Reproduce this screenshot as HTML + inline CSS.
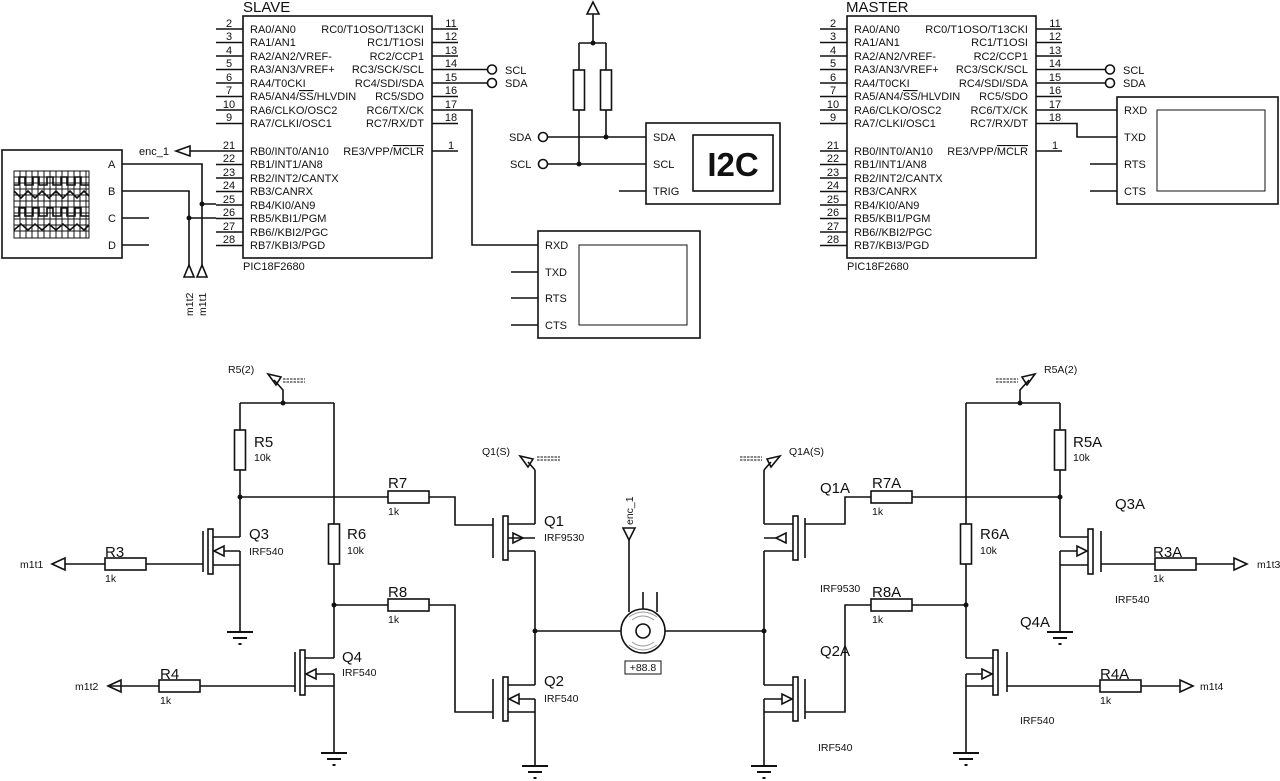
<!DOCTYPE html>
<html><head><meta charset="utf-8"><style>
body{margin:0;background:#fff}
svg{display:block}
text{font-family:"Liberation Sans",sans-serif;fill:#111}
.w{stroke:#111;stroke-width:1.6;fill:none}
.t{stroke:#111;stroke-width:1;fill:none}
.p{font-size:11px}
.n{font-size:11px;text-anchor:middle}
.r{font-size:11px;text-anchor:end}
.L{font-size:15px}
.v{font-size:10.5px}
</style></head><body>
<svg width="1280" height="781" viewBox="0 0 1280 781">
<defs>
<symbol id="gnd" overflow="visible"><path d="M-13 0H13M-7 6H7" stroke="#111" stroke-width="2"/><rect x="-1.5" y="11" width="3" height="2" fill="#111"/></symbol>
</defs>

<!-- SLAVE chip -->
<g id="chip">
<text x="243" y="12" style="font-size:15px">SLAVE</text>
<rect x="243" y="16" width="189" height="242" class="w"/>
<path class="w" d="M216 29H243M216 42.5H243M216 56H243M216 69.5H243M216 83H243M216 96.5H243M216 110H243M216 123.5H243M216 151H243M216 164.5H243M216 178H243M216 191.5H243M216 205H243M216 218.5H243M216 232H243M216 245.5H243M432 29H458M432 42.5H458M432 56H458M432 69.5H458M432 83H458M432 96.5H458M432 110H458M432 123.5H458M432 151H458"/>
<g class="n"><text x="229" y="27">2</text><text x="229" y="40">3</text><text x="229" y="54">4</text><text x="229" y="67">5</text><text x="229" y="81">6</text><text x="229" y="94">7</text><text x="229" y="108">10</text><text x="229" y="121">9</text><text x="229" y="149">21</text><text x="229" y="162">22</text><text x="229" y="176">23</text><text x="229" y="189">24</text><text x="229" y="203">25</text><text x="229" y="216">26</text><text x="229" y="230">27</text><text x="229" y="243">28</text>
<text x="451" y="27">11</text><text x="451" y="40">12</text><text x="451" y="54">13</text><text x="451" y="67">14</text><text x="451" y="81">15</text><text x="451" y="94">16</text><text x="451" y="108">17</text><text x="451" y="121">18</text><text x="451" y="149">1</text></g>
<g class="p"><text x="250" y="33">RA0/AN0</text><text x="250" y="46">RA1/AN1</text><text x="250" y="60">RA2/AN2/VREF-</text><text x="250" y="73">RA3/AN3/VREF+</text><text x="250" y="87">RA4/T0CKI</text><text x="250" y="100">RA5/AN4/<tspan text-decoration="overline">SS</tspan>/HLVDIN</text><text x="250" y="114">RA6/CLKO/OSC2</text><text x="250" y="127">RA7/CLKI/OSC1</text>
<text x="250" y="155">RB0/INT0/AN10</text><text x="250" y="168">RB1/INT1/AN8</text><text x="250" y="182">RB2/INT2/CANTX</text><text x="250" y="195">RB3/CANRX</text><text x="250" y="209">RB4/KI0/AN9</text><text x="250" y="222">RB5/KBI1/PGM</text><text x="250" y="236">RB6//KBI2/PGC</text><text x="250" y="249">RB7/KBI3/PGD</text></g>
<g class="r"><text x="424" y="33">RC0/T1OSO/T13CKI</text><text x="424" y="46">RC1/T1OSI</text><text x="424" y="60">RC2/CCP1</text><text x="424" y="73">RC3/SCK/SCL</text><text x="424" y="87">RC4/SDI/SDA</text><text x="424" y="100">RC5/SDO</text><text x="424" y="114">RC6/TX/CK</text><text x="424" y="127">RC7/RX/DT</text><text x="424" y="155">RE3/VPP/<tspan text-decoration="overline">MCLR</tspan></text></g>
<text x="243" y="270" class="p">PIC18F2680</text>
</g>
<use href="#chip" x="604" y="0"/>
<rect x="843" y="0" width="60" height="15" fill="#fff"/>
<text x="846" y="12" style="font-size:15px">MASTER</text>

<!-- slave SCL/SDA -->
<path class="w" d="M458 69.5H488M458 83H488M458 110H472V245H538"/>
<circle cx="492" cy="69.5" r="4.5" class="w"/><circle cx="492" cy="83" r="4.5" class="w"/>
<text x="505" y="74" class="p">SCL</text><text x="505" y="87" class="p">SDA</text>
<!-- master SCL/SDA -->
<path class="w" d="M1062 69.5H1106M1062 83H1106M1062 110H1117M1062 123.5H1077V137H1117M1090 164H1117M1090 191H1117"/>
<circle cx="1110" cy="69.5" r="4.5" class="w"/><circle cx="1110" cy="83" r="4.5" class="w"/>
<text x="1123" y="74" class="p">SCL</text><text x="1123" y="87" class="p">SDA</text>
<rect x="1117" y="97" width="161" height="107" class="w"/><rect x="1157" y="110" width="108" height="81" class="t"/>
<g class="p"><text x="1124" y="114">RXD</text><text x="1124" y="141">TXD</text><text x="1124" y="168">RTS</text><text x="1124" y="195">CTS</text></g>

<!-- slave terminal -->
<rect x="538" y="231" width="162" height="107" class="w"/><rect x="579" y="245" width="108" height="80" class="t"/>
<path class="w" d="M511 272H538M511 298H538M511 325H538"/>
<g class="p"><text x="545" y="249">RXD</text><text x="545" y="276">TXD</text><text x="545" y="302">RTS</text><text x="545" y="329">CTS</text></g>

<!-- I2C -->
<rect x="646" y="123" width="134" height="81" class="w"/><rect x="693" y="135" width="80" height="56" class="w"/>
<text x="733" y="176" style="font-size:33px;font-weight:bold;text-anchor:middle">I2C</text>
<g class="p"><text x="653" y="141">SDA</text><text x="653" y="168">SCL</text><text x="653" y="195">TRIG</text></g>
<path class="w" d="M547 137H646M547 164H646M619 191H646M593 14V43M579 43H606M579 43V70M606 43V70M579 110V164M606 110V137"/>
<polygon points="593,2 587,14 599,14" class="w"/>
<rect x="573.5" y="70" width="11" height="40" class="w"/><rect x="600.5" y="70" width="11" height="40" class="w"/>
<circle cx="543" cy="137" r="4.5" class="w"/><circle cx="543" cy="164" r="4.5" class="w"/>
<text x="509" y="141" class="p">SDA</text><text x="510" y="168" class="p">SCL</text>
<circle cx="593" cy="43" r="2.5" fill="#111"/><circle cx="606" cy="137" r="2.5" fill="#111"/><circle cx="579" cy="164" r="2.5" fill="#111"/>

<!-- scope -->
<rect x="2" y="150" width="120" height="108" class="w"/>
<g class="t" stroke-width="0.6" stroke="#555">
<path d="M20 171V238M26 171V238M32 171V238M38 171V238M44 171V238M50 171V238M56 171V238M62 171V238M68 171V238M74 171V238M80 171V238M86 171V238M14 177H89M14 183H89M14 189H89M14 195H89M14 201H89M14 207H89M14 213H89M14 219H89M14 225H89M14 231H89"/>
</g>
<rect x="14" y="171" width="75" height="67" class="t" stroke-width="1.2"/>
<path class="w" stroke-width="1.4" d="M14 185H19V177H25V185H33V177H39V185H47V177H53V185H61V177H67V185H75V177H81V185H89M14 191L21 198L28 191L35 198L42 191L49 198L56 191L63 198L70 191L77 198L84 191L89 196M14 216H19V208H25V216H33V208H39V216H47V208H53V216H61V208H67V216H75V208H81V216H89M14 230L21 224L28 230L35 224L42 230L49 224L56 230L63 224L70 230L77 224L84 230L89 225"/>
<g class="p"><text x="108" y="168">A</text><text x="108" y="195">B</text><text x="108" y="222">C</text><text x="108" y="249">D</text></g>
<path class="w" d="M122 164H202V265M122 191H189V265M122 218H149M122 245H149M202 204H216M189 218H216M190 151H216"/>
<circle cx="202" cy="204" r="2.5" fill="#111"/><circle cx="189" cy="218" r="2.5" fill="#111"/>
<polygon points="189,265 184,277 194,277" class="w"/><polygon points="202,265 197,277 207,277" class="w"/>
<polygon points="176,151 190,146 190,156" class="w"/>
<text x="139" y="155" class="p">enc_1</text>
<text transform="translate(193,316) rotate(-90)" class="v">m1t2</text>
<text transform="translate(206,316) rotate(-90)" class="v">m1t1</text>

<!-- ===== bottom left ===== -->
<g class="w">
<path d="M240 403H334M240 403V430M240 470V537M240 551V632M334 403V524M334 564V658M334 674V753M535 470V524M535 551V685M535 699V766M535 631H621"/>
<path d="M283 403V390L274 380M240 497H388M429 497H455V525H493M334 605H388M429 605H455V712H493M65 564H105M146 564H203M108 686H159M200 686H295"/>
<path d="M535 470L528 462"/>
<rect x="234.5" y="430" width="11" height="40"/><rect x="328.5" y="524" width="11" height="40"/>
<rect x="388" y="491" width="41" height="12"/><rect x="388" y="599" width="41" height="12"/>
<rect x="105" y="558" width="41" height="12"/><rect x="159" y="680" width="41" height="12"/>
<path d="M203 531V572M213 537H240M213 565H240M224 551H240"/><rect x="208" y="529" width="5" height="45"/><polygon points="214,551 224,546 224,556"/>
<path d="M295 652V692M305 658H334M305 686H334M316 674H334"/><rect x="300" y="650" width="5" height="45"/><polygon points="306,674 316,669 316,679"/>
<path d="M493 518V558M508 524H535M508 551H535M508 538H535"/><rect x="503" y="516" width="5" height="44"/><polygon points="523,538 513,533 513,543"/>
<path d="M493 679V719M508 685H535M508 712H535M519 699H535"/><rect x="503" y="677" width="5" height="44"/><polygon points="509,699 519,694 519,704"/>
<polygon points="52,564 65,558 65,570"/><polygon points="108,686 121,680 121,692"/>
<polygon points="268,374 276,385 281,377"/><polygon points="520,456 528,467 533,459"/>
</g>
<path d="M283 379H305M283 382H305M537 457H560M537 460H560" stroke="#111" stroke-width="1" stroke-dasharray="2.5 1"/>
<g fill="#111"><circle cx="283" cy="403" r="2.5"/><circle cx="240" cy="497" r="2.5"/><circle cx="334" cy="605" r="2.5"/><circle cx="535" cy="631" r="2.5"/></g>
<use href="#gnd" x="240" y="632"/><use href="#gnd" x="334" y="753"/><use href="#gnd" x="535" y="766"/>
<g class="L"><text x="254" y="447">R5</text><text x="388" y="488">R7</text><text x="249" y="539">Q3</text><text x="347" y="539">R6</text><text x="105" y="557">R3</text><text x="388" y="597">R8</text><text x="342" y="662">Q4</text><text x="160" y="679">R4</text><text x="544" y="526">Q1</text><text x="544" y="686">Q2</text></g>
<g class="v"><text x="254" y="461">10k</text><text x="388" y="515">1k</text><text x="249" y="555">IRF540</text><text x="347" y="554">10k</text><text x="105" y="582">1k</text><text x="388" y="623">1k</text><text x="342" y="676">IRF540</text><text x="160" y="704">1k</text><text x="544" y="541">IRF9530</text><text x="544" y="702">IRF540</text>
<text x="228" y="373">R5(2)</text><text x="482" y="455">Q1(S)</text><text x="20" y="568">m1t1</text><text x="75" y="690">m1t2</text></g>

<!-- motor -->
<g class="w">
<path d="M629 540V612M643 592V609M657 592V612M665 631H764"/>
<polygon points="629,540 623,528 635,528"/>
<circle cx="643" cy="631" r="22"/><circle cx="643" cy="631" r="7"/>
</g>
<path d="M632 620Q643 612 654 620M629 617Q643 607 657 617M632 642Q643 650 654 642M629 645Q643 655 657 645" stroke="#999" stroke-width="1" fill="none"/>
<rect x="625" y="661" width="36" height="13" class="t"/>
<text x="643" y="671" class="v" style="text-anchor:middle">+88.8</text>
<text transform="translate(633,525) rotate(-90)" class="v">enc_1</text>

<!-- ===== bottom right ===== -->
<g class="w">
<path d="M966 403H1060M1020 403V390L1029 380M1060 403V430M1060 470V537M1060 551V632M966 403V524M966 564V658M966 674V753M764 470V524M764 551V685M764 699V766"/>
<path d="M764 470L771 462M805 524H845V497H871M912 497H1060M966 605H912M871 605H845V712H805M1101 564H1155M1196 564H1234M1007 686H1100M1141 686H1180"/>
<rect x="1054.5" y="430" width="11" height="40"/><rect x="960.5" y="524" width="11" height="40"/>
<rect x="871" y="491" width="41" height="12"/><rect x="871" y="599" width="41" height="12"/>
<rect x="1155" y="558" width="41" height="12"/><rect x="1100" y="680" width="41" height="12"/>
<path d="M805 518V558M764 524H793M764 551H793M764 538H776"/><rect x="793" y="516" width="5" height="44"/><polygon points="776,538 786,533 786,543"/>
<path d="M805 679V719M764 685H793M764 712H793M764 699H782"/><rect x="793" y="677" width="5" height="44"/><polygon points="792,699 782,694 782,704"/>
<path d="M1101 531V572M1060 537H1088M1060 565H1088M1060 551H1077"/><rect x="1088" y="529" width="5" height="45"/><polygon points="1087,551 1077,546 1077,556"/>
<path d="M1007 652V692M966 658H993M966 686H993M966 674H982"/><rect x="993" y="650" width="5" height="45"/><polygon points="992,674 982,669 982,679"/>
<polygon points="1247,564 1234,558 1234,570"/><polygon points="1193,686 1180,680 1180,692"/>
<polygon points="1035,374 1027,385 1022,377"/><polygon points="780,456 771,467 767,459"/>
</g>
<path d="M996 379H1018M996 382H1018M740 457H762M740 460H762" stroke="#111" stroke-width="1" stroke-dasharray="2.5 1"/>
<g fill="#111"><circle cx="1020" cy="403" r="2.5"/><circle cx="1060" cy="497" r="2.5"/><circle cx="966" cy="605" r="2.5"/><circle cx="764" cy="631" r="2.5"/></g>
<use href="#gnd" x="1060" y="632"/><use href="#gnd" x="966" y="753"/><use href="#gnd" x="764" y="766"/>
<g class="L"><text x="820" y="493">Q1A</text><text x="872" y="488">R7A</text><text x="1115" y="509">Q3A</text><text x="1073" y="447">R5A</text><text x="980" y="539">R6A</text><text x="872" y="597">R8A</text><text x="820" y="656">Q2A</text><text x="1153" y="557">R3A</text><text x="1020" y="627">Q4A</text><text x="1100" y="679">R4A</text></g>
<g class="v"><text x="1073" y="461">10k</text><text x="872" y="515">1k</text><text x="980" y="554">10k</text><text x="820" y="592">IRF9530</text><text x="872" y="623">1k</text><text x="1153" y="582">1k</text><text x="1115" y="603">IRF540</text><text x="1100" y="704">1k</text><text x="1020" y="724">IRF540</text><text x="818" y="751">IRF540</text>
<text x="1044" y="373">R5A(2)</text><text x="789" y="455">Q1A(S)</text><text x="1257" y="568">m1t3</text><text x="1200" y="690">m1t4</text></g>
</svg>
</body></html>
